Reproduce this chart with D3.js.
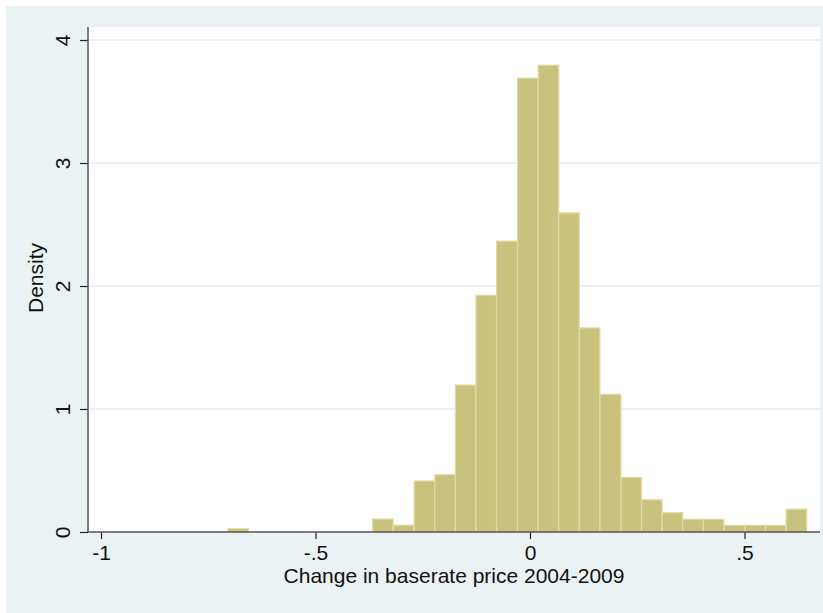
<!DOCTYPE html>
<html>
<head>
<meta charset="utf-8">
<script src="https://cdn.jsdelivr.net/npm/d3@7"></script>
<style>
  body { margin: 0; background: #ffffff; }
  svg { display: block; }
</style>
</head>
<body>
<div id="chart"></div>
<script>
let w = 823;
let h = 613;

// histogram bins (left edges) and density heights
let binStarts = [-0.704, -0.656, -0.608, -0.559, -0.511, -0.463, -0.415, -0.367, -0.319, -0.270,
                 -0.222, -0.174, -0.126, -0.078, -0.029, 0.019, 0.067, 0.115, 0.163, 0.212,
                 0.260, 0.308, 0.356, 0.404, 0.452, 0.501, 0.549, 0.597];
let binEnd = 0.645;
let densities = [0.027, 0, 0, 0, 0, 0, 0, 0.106, 0.055, 0.415,
                 0.467, 1.195, 1.925, 2.365, 3.69, 3.795, 2.595, 1.66, 1.12, 0.444,
                 0.262, 0.157, 0.104, 0.104, 0.054, 0.054, 0.054, 0.186];

let xTicks = [-1, -0.5, 0, 0.5];
let xTickLabels = ["-1", "-.5", "0", ".5"];
let yTicks = [0, 1, 2, 3, 4];

let font = "'Liberation Sans', Arial, sans-serif";
let fontSize = "21px";

let bins = binStarts.map((s, i) => ({
  x0: s,
  x1: i < binStarts.length - 1 ? binStarts[i + 1] : binEnd,
  density: densities[i]
}));

let svg = d3.select("#chart").append("svg")
  .attr("width", w)
  .attr("height", h);

// outer background
svg.append("rect")
  .attr("x", 6).attr("y", 6)
  .attr("width", w - 6).attr("height", h - 6)
  .attr("fill", "#eaf2f3");

let plotLeft = 88, plotRight = 820, plotTop = 27, plotBottom = 532;

// plot region
svg.append("rect")
  .attr("x", plotLeft).attr("y", plotTop)
  .attr("width", plotRight - plotLeft).attr("height", plotBottom - plotTop)
  .attr("fill", "#ffffff");

let xScale = d3.scaleLinear().domain([0, 0.5]).range([530, 744.5]);
let yScale = d3.scaleLinear().domain([0, 4]).range([532, 40]);

// gridlines
svg.append("g").selectAll("line").data(yTicks.slice(1)).enter()
  .append("line")
    .attr("x1", plotLeft + 1).attr("x2", plotRight)
    .attr("y1", d => yScale(d)).attr("y2", d => yScale(d))
    .attr("stroke", "#e0ecef")
    .attr("stroke-width", 1.3);

// bars
svg.append("g").selectAll("rect").data(bins.filter(d => d.density > 0)).enter()
  .append("rect")
    .attr("x", d => xScale(d.x0))
    .attr("y", d => yScale(d.density))
    .attr("width", d => xScale(d.x1) - xScale(d.x0))
    .attr("height", d => yScale(0) - yScale(d.density))
    .attr("fill", "#c9c27f")
    .attr("stroke", "#e2dca4")
    .attr("stroke-width", 1.2);

// y axis
let yAxis = d3.axisLeft(yScale).tickValues(yTicks).tickSize(8).tickFormat(d3.format("d"));
let yAxisGroup = svg.append("g")
  .attr("transform", "translate(" + plotLeft + ",0)")
  .call(yAxis);
yAxisGroup.select(".domain").remove();
yAxisGroup.selectAll("line").attr("stroke", "#222").attr("stroke-width", 1.2);
yAxisGroup.selectAll("text")
  .attr("transform", "translate(-18,0) rotate(-90)")
  .attr("x", 0).attr("y", 0).attr("dy", 0)
  .attr("text-anchor", "middle")
  .style("font-family", font)
  .style("font-size", fontSize)
  .attr("fill", "#111");
svg.append("line")
  .attr("x1", plotLeft).attr("x2", plotLeft)
  .attr("y1", plotTop).attr("y2", plotBottom)
  .attr("stroke", "#555").attr("stroke-width", 1.5);

// x axis
let xAxis = d3.axisBottom(xScale).tickValues(xTicks).tickSize(7).tickFormat((d, i) => xTickLabels[i]);
let xAxisGroup = svg.append("g")
  .attr("transform", "translate(0," + plotBottom + ")")
  .call(xAxis);
xAxisGroup.select(".domain").remove();
xAxisGroup.selectAll("line").attr("stroke", "#222").attr("stroke-width", 1.2);
xAxisGroup.selectAll("text")
  .attr("y", 28).attr("dy", 0)
  .style("font-family", font)
  .style("font-size", fontSize)
  .attr("fill", "#111");
svg.append("line")
  .attr("x1", plotLeft).attr("x2", plotRight)
  .attr("y1", plotBottom).attr("y2", plotBottom)
  .attr("stroke", "#555").attr("stroke-width", 1.5);

// axis titles
svg.append("text")
  .attr("x", 454).attr("y", 583)
  .attr("text-anchor", "middle")
  .style("font-family", font)
  .style("font-size", fontSize)
  .attr("fill", "#111")
  .text("Change in baserate price 2004-2009");

svg.append("text")
  .attr("transform", "translate(43,278) rotate(-90)")
  .attr("text-anchor", "middle")
  .style("font-family", font)
  .style("font-size", fontSize)
  .attr("fill", "#111")
  .text("Density");
</script>
</body>
</html>
